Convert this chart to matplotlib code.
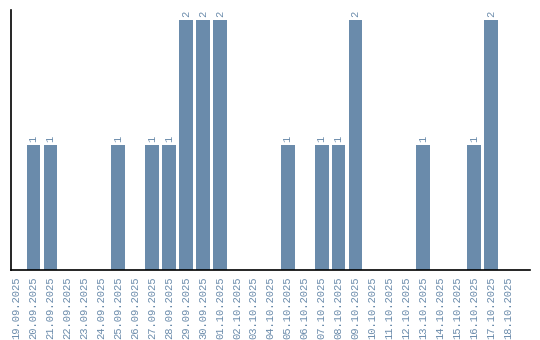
import matplotlib
matplotlib.use("Agg")
import matplotlib.pyplot as plt

dates = ["19.09.2025", "20.09.2025", "21.09.2025", "22.09.2025", "23.09.2025",
         "24.09.2025", "25.09.2025", "26.09.2025", "27.09.2025", "28.09.2025",
         "29.09.2025", "30.09.2025", "01.10.2025", "02.10.2025", "03.10.2025",
         "04.10.2025", "05.10.2025", "06.10.2025", "07.10.2025", "08.10.2025",
         "09.10.2025", "10.10.2025", "11.10.2025", "12.10.2025", "13.10.2025",
         "14.10.2025", "15.10.2025", "16.10.2025", "17.10.2025", "18.10.2025"]
counts = [0, 1, 1, 0, 0, 0, 1, 0, 1, 1,
          2, 2, 2, 0, 0, 0, 1, 0, 1, 1,
          2, 0, 0, 0, 1, 0, 0, 1, 2, 0]

bar_color = "#6a8bab"
text_color = "#6a8bab"

fig = plt.figure(figsize=(5.4, 3.4), dpi=100)
ax = fig.add_axes([0.0204, 0.206, 0.9611, 0.7646])

x = list(range(len(dates)))
bars = ax.bar(x, counts, width=0.82, color=bar_color)

for xi, v in zip(x, counts):
    if v > 0:
        ax.text(xi, v + 0.02, str(v), rotation=90, ha="center", va="bottom",
                fontsize=7.5, color=text_color, family="Liberation Mono")

ax.set_xlim(-0.33, 30.3)
ax.set_ylim(0, 2.08)
ax.set_xticks(x)
ax.set_xticklabels(dates, rotation=90, fontsize=7.6, color=text_color,
                   family="Liberation Mono")
ax.tick_params(axis="x", length=0, pad=5)
ax.set_yticks([])
ax.spines["top"].set_visible(False)
ax.spines["right"].set_visible(False)
ax.spines["left"].set_linewidth(1.2)
ax.spines["bottom"].set_linewidth(1.2)

fig.savefig("out.png", dpi=100)
